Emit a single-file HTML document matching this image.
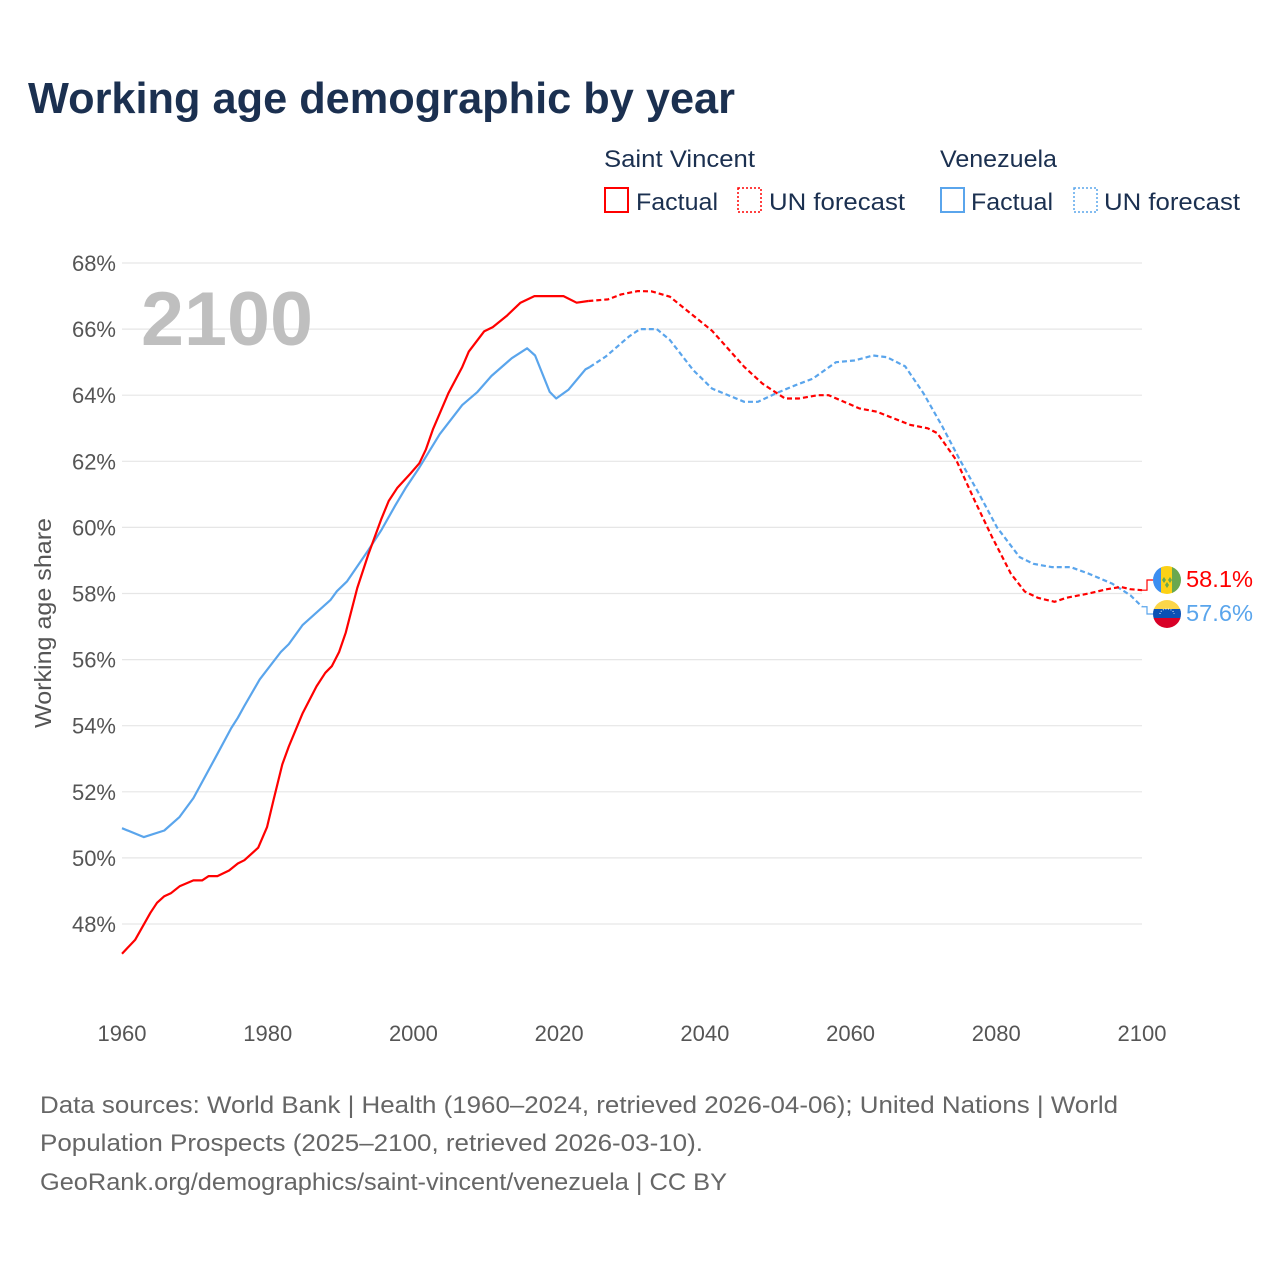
<!DOCTYPE html>
<html><head><meta charset="utf-8"><style>
html,body{margin:0;padding:0;background:#fff;}
body{width:1280px;height:1280px;position:relative;overflow:hidden;font-family:"Liberation Sans",sans-serif;}
svg text{font-family:"Liberation Sans",sans-serif;}
</style></head><body>
<svg id="chart" width="1280" height="1280" viewBox="0 0 1280 1280" xmlns="http://www.w3.org/2000/svg">
<text x="28" y="113" font-size="44" font-weight="bold" fill="#1b3050" textLength="707" lengthAdjust="spacingAndGlyphs">Working age demographic by year</text>
<g font-size="24" fill="#1b3050">
<text x="604" y="167" textLength="151" lengthAdjust="spacingAndGlyphs">Saint Vincent</text>
<rect x="605" y="188" width="23" height="24" fill="none" stroke="#ff0000" stroke-width="2"/>
<text x="636" y="210" textLength="82" lengthAdjust="spacingAndGlyphs">Factual</text>
<rect x="738" y="188" width="23" height="24" fill="none" stroke="#ff0000" stroke-width="1.5" stroke-dasharray="2,2"/>
<text x="769" y="210" textLength="136" lengthAdjust="spacingAndGlyphs">UN forecast</text>
<text x="940" y="167" textLength="117" lengthAdjust="spacingAndGlyphs">Venezuela</text>
<rect x="941" y="188" width="23" height="24" fill="none" stroke="#5aa5ec" stroke-width="2"/>
<text x="971" y="210" textLength="82" lengthAdjust="spacingAndGlyphs">Factual</text>
<rect x="1074" y="188" width="23" height="24" fill="none" stroke="#5aa5ec" stroke-width="1.5" stroke-dasharray="2,2"/>
<text x="1104" y="210" textLength="136" lengthAdjust="spacingAndGlyphs">UN forecast</text>
</g>
<g id="grid"></g>
<g id="yticks"></g>
<g id="xticks"></g>
<text x="141" y="345" font-size="76" font-weight="bold" fill="#bfbfbf" textLength="172" lengthAdjust="spacingAndGlyphs">2100</text>
<text transform="translate(51,623) rotate(-90)" text-anchor="middle" font-size="23" fill="#555" textLength="210" lengthAdjust="spacingAndGlyphs">Working age share</text>
<g id="series"></g>
<defs>
<clipPath id="c1"><circle cx="1167" cy="580" r="14"/></clipPath>
<clipPath id="c2"><circle cx="1167" cy="614" r="14"/></clipPath>
</defs>
<g clip-path="url(#c1)">
<rect x="1153" y="566" width="10" height="28" fill="#3c8ef0"/>
<rect x="1161" y="566" width="12" height="28" fill="#fcd116"/>
<rect x="1172" y="566" width="10" height="28" fill="#6aa84f"/>
<path d="M1164 577l2 3-2 3-2-3zM1170 577l2 3-2 3-2-3zM1167 582l2 3-2 3-2-3z" fill="#6aa84f"/>
</g>
<g clip-path="url(#c2)">
<rect x="1153" y="600" width="28" height="10" fill="#fcd64a"/>
<rect x="1153" y="609" width="28" height="10" fill="#0b50b4"/>
<rect x="1153" y="618" width="28" height="10" fill="#d80027"/>
<path d="M1160 614a7 5 0 0 1 14 0" fill="none" stroke="#fff" stroke-width="1" stroke-dasharray="1,1.6"/>
</g>
<text x="1186" y="587" font-size="23" fill="#ff0000" textLength="67" lengthAdjust="spacingAndGlyphs">58.1%</text>
<text x="1186" y="621" font-size="23" fill="#5aa5ec" textLength="67" lengthAdjust="spacingAndGlyphs">57.6%</text>
<g font-size="24" fill="#666">
<text x="40" y="1113" textLength="1078" lengthAdjust="spacingAndGlyphs">Data sources: World Bank | Health (1960–2024, retrieved 2026-04-06); United Nations | World</text>
<text x="40" y="1151" textLength="663" lengthAdjust="spacingAndGlyphs">Population Prospects (2025–2100, retrieved 2026-03-10).</text>
<text x="40" y="1190" textLength="687" lengthAdjust="spacingAndGlyphs">GeoRank.org/demographics/saint-vincent/venezuela | CC BY</text>
</g>
</svg>
<script>
const yTicks=[48,50,52,54,56,58,60,62,64,66,68];
const xTicks=[1960,1980,2000,2020,2040,2060,2080,2100];
const svFactYears=[1960,1961.8,1963.9,1964.8,1965.8,1966.7,1967.9,1969.8,1971,1971.9,1973.1,1974.7,1975.9,1976.8,1978.7,1979.9,1980.8,1982,1982.9,1984.8,1986.7,1987.9,1988.8,1989.8,1990.7,1992.3,1993.8,1995.6,1996.6,1997.8,1999.6,2000.8,2001.7,2002.7,2004.8,2006.7,2007.6,2009.7,2010.9,2012.8,2014.7,2016.6,2020.6,2022.4,2024];
const svFactVals=[47.1,47.52,48.34,48.64,48.84,48.93,49.14,49.32,49.32,49.45,49.45,49.62,49.83,49.93,50.31,50.93,51.75,52.83,53.37,54.38,55.19,55.6,55.8,56.23,56.81,58.17,59.18,60.26,60.8,61.2,61.63,61.94,62.35,62.98,64.06,64.85,65.32,65.93,66.06,66.4,66.8,67.0,67.0,66.8,66.85];
const svFcYears=[2024,2026.7,2028.5,2030.8,2032.7,2035.2,2041,2045.4,2047.9,2051,2052.9,2055.5,2057,2061.2,2063.6,2068.2,2070.6,2071.9,2074.5,2077,2079.4,2082,2083.9,2085.7,2088,2089.6,2092.7,2095.2,2097.1,2098.4,2100];
const svFcVals=[66.85,66.9,67.05,67.15,67.14,66.98,65.95,64.86,64.35,63.9,63.9,64.0,64.0,63.6,63.5,63.1,63.0,62.85,62.04,60.83,59.72,58.6,58.06,57.87,57.75,57.87,58.0,58.13,58.2,58.13,58.1];
const veFactYears=[1960,1963,1965.8,1967.9,1969.8,1972.8,1975,1975.9,1976.8,1978.9,1981.8,1982.9,1984.8,1988.6,1989.5,1990.9,1993.8,1995.6,1997.5,1998.9,2000.8,2003.6,2006.7,2008.8,2010.7,2013.5,2015.6,2016.7,2018.7,2019.6,2021.3,2023.6,2024.2];
const veFactVals=[50.9,50.63,50.83,51.24,51.81,53.03,53.93,54.24,54.6,55.4,56.23,56.47,57.05,57.8,58.07,58.37,59.31,59.92,60.66,61.18,61.81,62.82,63.7,64.1,64.58,65.12,65.42,65.2,64.1,63.9,64.17,64.78,64.85];
const veFcYears=[2024.2,2026.4,2029.6,2031.1,2033.4,2035.2,2038.4,2041,2045.4,2047.3,2049.8,2052.4,2054.8,2058,2060.5,2063.1,2065,2067.5,2070,2072.6,2075,2077.6,2080.1,2083.2,2085.1,2087.6,2090.2,2092.7,2095.9,2098.4,2100];
const veFcVals=[64.85,65.17,65.78,66.0,66.0,65.67,64.76,64.2,63.8,63.8,64.06,64.3,64.5,65.0,65.05,65.2,65.15,64.87,64.06,63.05,62.04,61.03,60.0,59.1,58.9,58.8,58.8,58.6,58.3,57.95,57.6];

const NS='http://www.w3.org/2000/svg';
const xS=y=>122+(y-1960)*(1020/140);
const yS=v=>924-(v-48)*(661/20);
function mk(tag,attrs,parent){const e=document.createElementNS(NS,tag);for(const k in attrs)e.setAttribute(k,attrs[k]);parent.appendChild(e);return e;}
const grid=document.getElementById('grid'),yt=document.getElementById('yticks'),xt=document.getElementById('xticks'),ser=document.getElementById('series');
yTicks.forEach(v=>{
 const l=mk('line',{x1:122,x2:1142,y1:yS(v),y2:yS(v),stroke:'#e6e6e6','stroke-width':1.2},grid);
 
 
 const t=mk('text',{x:116,y:yS(v)+8,'text-anchor':'end','font-size':22,fill:'#555'},yt);
 t.textContent=v+'%';
 
 
});
xTicks.forEach(y=>{
 const t=mk('text',{x:xS(y),y:1041,'text-anchor':'middle','font-size':22,fill:'#555'},xt);
 t.textContent=y;
 
 
});
function line(ys,vs,color,dash,name){
 const d=ys.map((y,i)=>(i?'L':'M')+xS(y).toFixed(1)+' '+yS(vs[i]).toFixed(1)).join(' ');
 const p=mk('path',{d:d,fill:'none',stroke:color,'stroke-width':2.2,'stroke-linejoin':'round'},ser);
 if(dash)p.setAttribute('stroke-dasharray','5,3');
 
 
}
line(veFactYears,veFactVals,'#5aa5ec',false,'venezuela-factual-line');
line(veFcYears,veFcVals,'#5aa5ec',true,'venezuela-forecast-line');
line(svFactYears,svFactVals,'#ff0000',false,'saint-vincent-factual-line');
line(svFcYears,svFcVals,'#ff0000',true,'saint-vincent-forecast-line');
const svEnd=svFcVals[svFcVals.length-1],veEnd=veFcVals[veFcVals.length-1];
const c1=mk('path',{d:`M1142 ${yS(svEnd)} H1147 V580 H1153`,fill:'none',stroke:'#ff0000','stroke-width':1.2},ser);


const c2=mk('path',{d:`M1142 ${yS(veEnd)} H1147 V614 H1153`,fill:'none',stroke:'#5aa5ec','stroke-width':1.2},ser);


</script>
</body></html>
